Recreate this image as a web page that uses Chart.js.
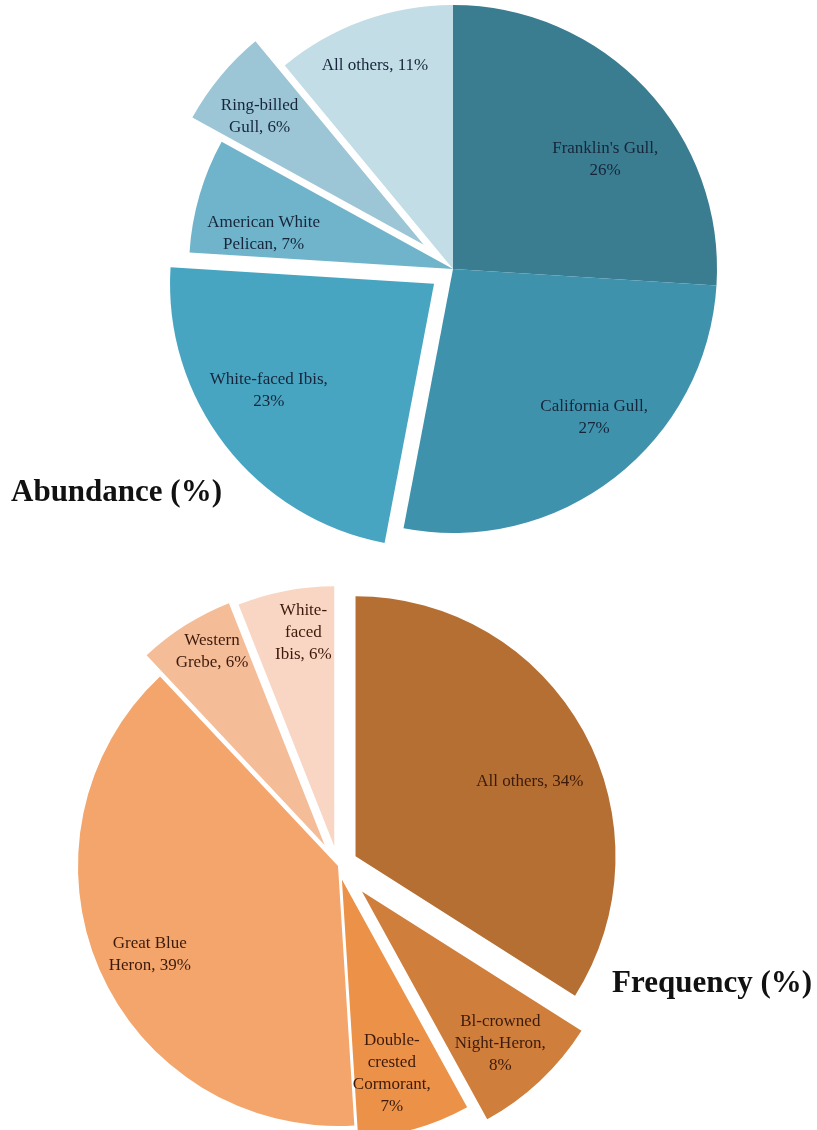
<!DOCTYPE html>
<html>
<head>
<meta charset="utf-8">
<script src="https://cdn.jsdelivr.net/npm/chart.js@4.4.1/dist/chart.umd.min.js"></script>
<style>
  html, body { margin: 0; padding: 0; background: #fff; }
  body { width: 817px; height: 1130px; position: relative; overflow: hidden; }
  canvas { position: absolute; }
  #cTop { left: 103px; top: -81px; }
  #cBot { left: -12px; top: 516px; }
  .ttl { position: absolute; font: bold 31px "Liberation Serif", "Times New Roman", serif; line-height: 31px; color: #111; white-space: nowrap; }
</style>
</head>
<body>
<canvas id="cTop" width="700" height="700"></canvas>
<canvas id="cBot" width="700" height="700"></canvas>
<div class="ttl" style="left:11px; top:475px;">Abundance (%)</div>
<div class="ttl" style="left:612px; top:966px;">Frequency (%)</div>
<script>
// abundance chart (top)
const abundanceSpecies = ["Franklin's Gull", 'California Gull', 'White-faced Ibis', 'American White Pelican', 'Ring-billed Gull', 'All others'];
const abundancePct = [26, 27, 23, 7, 6, 11];

// frequency chart (bottom)
const frequencySpecies = ['All others', 'Bl-crowned Night-Heron', 'Double-crested Cormorant', 'Great Blue Heron', 'Western Grebe', 'White-faced Ibis'];
const frequencyPct = [34, 8, 7, 39, 6, 6];

// styling
const abundanceColors = ['#3a7d91', '#3f92ac', '#47a5c1', '#6fb4cb', '#9cc6d6', '#c2dde6'];
const frequencyColors = ['#b56f33', '#cf7e3b', '#ec9148', '#f3a56c', '#f5bc98', '#f9d6c4'];

// pulled-out slices, px
const abundanceExplode = [0, 0, 24, 0, 38, 0];
const frequencyExplode = [20, 35, 14, 0, 25, 20];

// label placement: where along the slice (0..1 of angle) and how far out (fraction of radius)
const abundanceLab = { ang: [0.58, 0.44, 0.56, 0.28, 0.43, 0.47], rad: [0.71, 0.775, 0.745, 0.73, 0.79, 0.825], wrap: [120, 120, 125, 120, 90, 200] };
const frequencyLab = { ang: [0.545, 0.53, 0.57, 0.487, 0.6, 0.62], rad: [0.73, 0.79, 0.77, 0.80, 0.86, 0.83], wrap: [200, 100, 85, 100, 85, 62] };

const explodePlugin = {
  id: 'explode',
  afterDatasetUpdate(chart, args) {
    const dist = chart.options.plugins.explode.dist || [];
    args.meta.data.forEach((arc, i) => {
      const d = dist[i] || 0;
      if (!d) return;
      const mid = (arc.startAngle + arc.endAngle) / 2;
      arc.x += Math.cos(mid) * d;
      arc.y += Math.sin(mid) * d;
    });
  }
};

function wrapLines(ctx, text, maxW) {
  const parts = text.split(/(?<=[\s-])/);
  const lines = [];
  let line = '';
  parts.forEach(p => {
    const test = (line + p).trimEnd();
    if (line && ctx.measureText(test).width > maxW) {
      lines.push(line.trimEnd());
      line = p;
    } else {
      line += p;
    }
  });
  if (line) lines.push(line.trimEnd());
  return lines;
}

const sliceLabels = {
  id: 'sliceLabels',
  afterDatasetsDraw(chart) {
    const o = chart.options.plugins.sliceLabels;
    const ctx = chart.ctx;
    const meta = chart.getDatasetMeta(0);
    const names = chart.data.labels;
    const vals = chart.data.datasets[0].data;
    ctx.save();
    ctx.font = '17px "Liberation Serif", "Times New Roman", serif';
    ctx.fillStyle = o.color;
    ctx.textAlign = 'center';
    ctx.textBaseline = 'middle';
    meta.data.forEach((arc, i) => {
      const a = arc.startAngle + (arc.endAngle - arc.startAngle) * o.ang[i];
      const r = arc.outerRadius * o.rad[i];
      const x = arc.x + Math.cos(a) * r;
      const y = arc.y + Math.sin(a) * r;
      const lines = wrapLines(ctx, names[i] + ', ' + vals[i] + '%', o.wrap[i]);
      const lh = 22;
      const y0 = y - (lines.length - 1) * lh / 2;
      lines.forEach((ln, k) => ctx.fillText(ln, x, y0 + k * lh));
    });
    ctx.restore();
  }
};

function makePie(id, labels, values, colors, explode, lab, radius, textColor) {
  return new Chart(document.getElementById(id), {
    type: 'pie',
    data: {
      labels: labels,
      datasets: [{ data: values, backgroundColor: colors, borderWidth: 0 }]
    },
    options: {
      responsive: false,
      animation: false,
      events: [],
      radius: radius,
      layout: { padding: 0 },
      plugins: {
        legend: { display: false },
        tooltip: { enabled: false },
        explode: { dist: explode },
        sliceLabels: { ang: lab.ang, rad: lab.rad, wrap: lab.wrap, color: textColor }
      }
    },
    plugins: [explodePlugin, sliceLabels]
  });
}

makePie('cTop', abundanceSpecies, abundancePct, abundanceColors, abundanceExplode, abundanceLab, 264, '#17253a');
makePie('cBot', frequencySpecies, frequencyPct, frequencyColors, frequencyExplode, frequencyLab, 260, '#3b1a0c');
</script>
</body>
</html>
